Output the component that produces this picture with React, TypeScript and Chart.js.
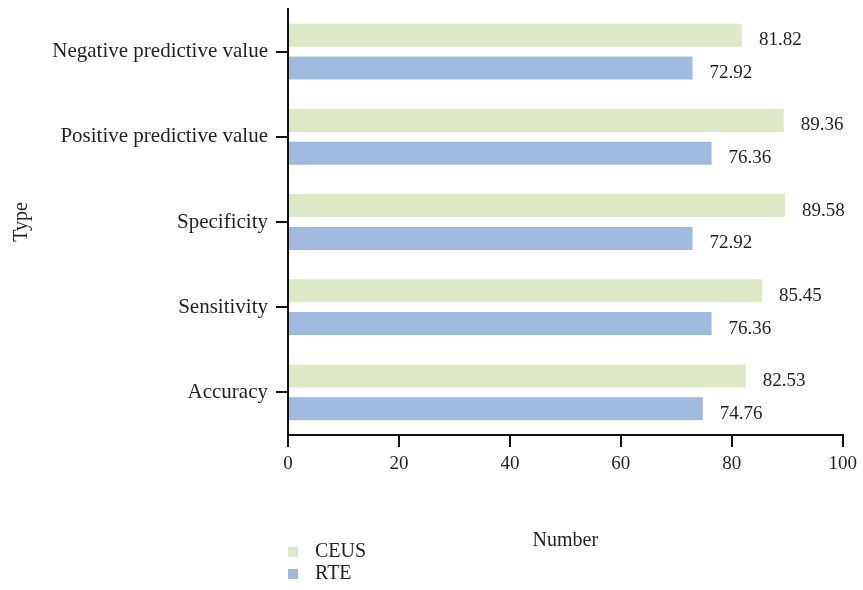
import React, { useEffect, useRef } from "react";
import { Chart, registerables } from "chart.js";

Chart.register(...registerables);

const categories = [
  "Negative predictive value",
  "Positive predictive value",
  "Specificity",
  "Sensitivity",
  "Accuracy",
];
const ceusValues = [81.82, 89.36, 89.58, 85.45, 82.53];
const rteValues = [72.92, 76.36, 72.92, 76.36, 74.76];
const seriesNames = ["CEUS", "RTE"];
const xTicks = [0, 20, 40, 60, 80, 100];

const FONT = "'Liberation Serif', 'Times New Roman', serif";
const TEXT = "#231f20";
const FS = 19;
const FS_LABEL = 21;
const FS_TITLE = 20;

const valueLabels = {
  id: "valueLabels",
  afterDatasetsDraw(chart: any) {
    const ctx = chart.ctx;
    ctx.save();
    ctx.font = `${FS}px ${FONT}`;
    ctx.fillStyle = TEXT;
    ctx.textAlign = "left";
    ctx.textBaseline = "middle";
    chart.data.datasets.forEach((ds: any, di: number) => {
      const meta = chart.getDatasetMeta(di);
      meta.data.forEach((bar: any, i: number) => {
        const v = ds.data[i] as number;
        ctx.fillText(v.toFixed(2), bar.x + 17, bar.y + 5);
      });
    });
    ctx.restore();
  },
};

const customLegend = {
  id: "customLegend",
  afterDraw(chart: any) {
    const ctx = chart.ctx;
    const left = chart.chartArea.left;
    ctx.save();
    ctx.font = `${FS_TITLE}px ${FONT}`;
    ctx.textAlign = "left";
    ctx.textBaseline = "middle";
    chart.data.datasets.forEach((ds: any, i: number) => {
      const cy = chart.height - 38 + i * 22;
      ctx.fillStyle = ds.backgroundColor;
      ctx.fillRect(left, cy - 5, 10, 10);
      ctx.fillStyle = TEXT;
      ctx.fillText(ds.label, left + 27, cy);
    });
    ctx.restore();
  },
};

export default function App() {
  const ref = useRef<HTMLCanvasElement | null>(null);
  useEffect(() => {
    document.body.style.margin = "0";
    if (!ref.current) return;
    const chart = new Chart(ref.current, {
      type: "bar",
      data: {
        labels: categories,
        datasets: [
          {
            label: seriesNames[0],
            data: ceusValues,
            backgroundColor: "#dde8c6",
            categoryPercentage: 0.77,
            barPercentage: 0.7,
          },
          {
            label: seriesNames[1],
            data: rteValues,
            backgroundColor: "#a0b9de",
            categoryPercentage: 0.77,
            barPercentage: 0.7,
          },
        ],
      },
      plugins: [valueLabels, customLegend],
      options: {
        indexAxis: "y",
        animation: false,
        responsive: false,
        devicePixelRatio: 1,
        layout: { padding: { top: 9, right: 19, bottom: 37, left: 0 } },
        plugins: {
          legend: { display: false },
          tooltip: { enabled: false },
        },
        scales: {
          x: {
            type: "linear",
            min: 0,
            max: 100,
            afterBuildTicks: (scale: any) => {
              scale.ticks = xTicks.map((v) => ({ value: v }));
            },
            afterFit: (scale: any) => {
              scale.height = 118;
            },
            ticks: {
              color: TEXT,
              font: { family: FONT, size: FS },
              padding: 6,
              maxRotation: 0,
            },
            grid: {
              display: true,
              drawOnChartArea: false,
              drawTicks: true,
              tickLength: 12,
              color: "#111",
              lineWidth: 2,
            },
            border: { display: true, color: "#111", width: 2 },
            title: {
              display: true,
              text: "Number",
              color: TEXT,
              font: { family: FONT, size: FS_TITLE },
              padding: { top: 0, bottom: 0 },
            },
          },
          y: {
            type: "category",
            afterFit: (scale: any) => {
              scale.width = 288;
              scale.paddingTop = 0;
              scale.paddingBottom = 0;
            },
            ticks: {
              color: TEXT,
              font: { family: FONT, size: FS_LABEL },
              padding: 8,
            },
            grid: {
              display: true,
              offset: false,
              drawOnChartArea: false,
              drawTicks: true,
              tickLength: 12,
              color: "#111",
              lineWidth: 2,
            },
            border: { display: true, color: "#111", width: 2 },
            title: {
              display: true,
              text: "Type",
              color: TEXT,
              font: { family: FONT, size: FS_TITLE },
              padding: { top: 10, bottom: 0 },
            },
          },
        },
      },
    } as any);
    return () => chart.destroy();
  }, []);
  return (
    <div style={{ width: 863, height: 590 }}>
      <canvas ref={ref} width={863} height={590} style={{ display: "block" }} />
    </div>
  );
}
